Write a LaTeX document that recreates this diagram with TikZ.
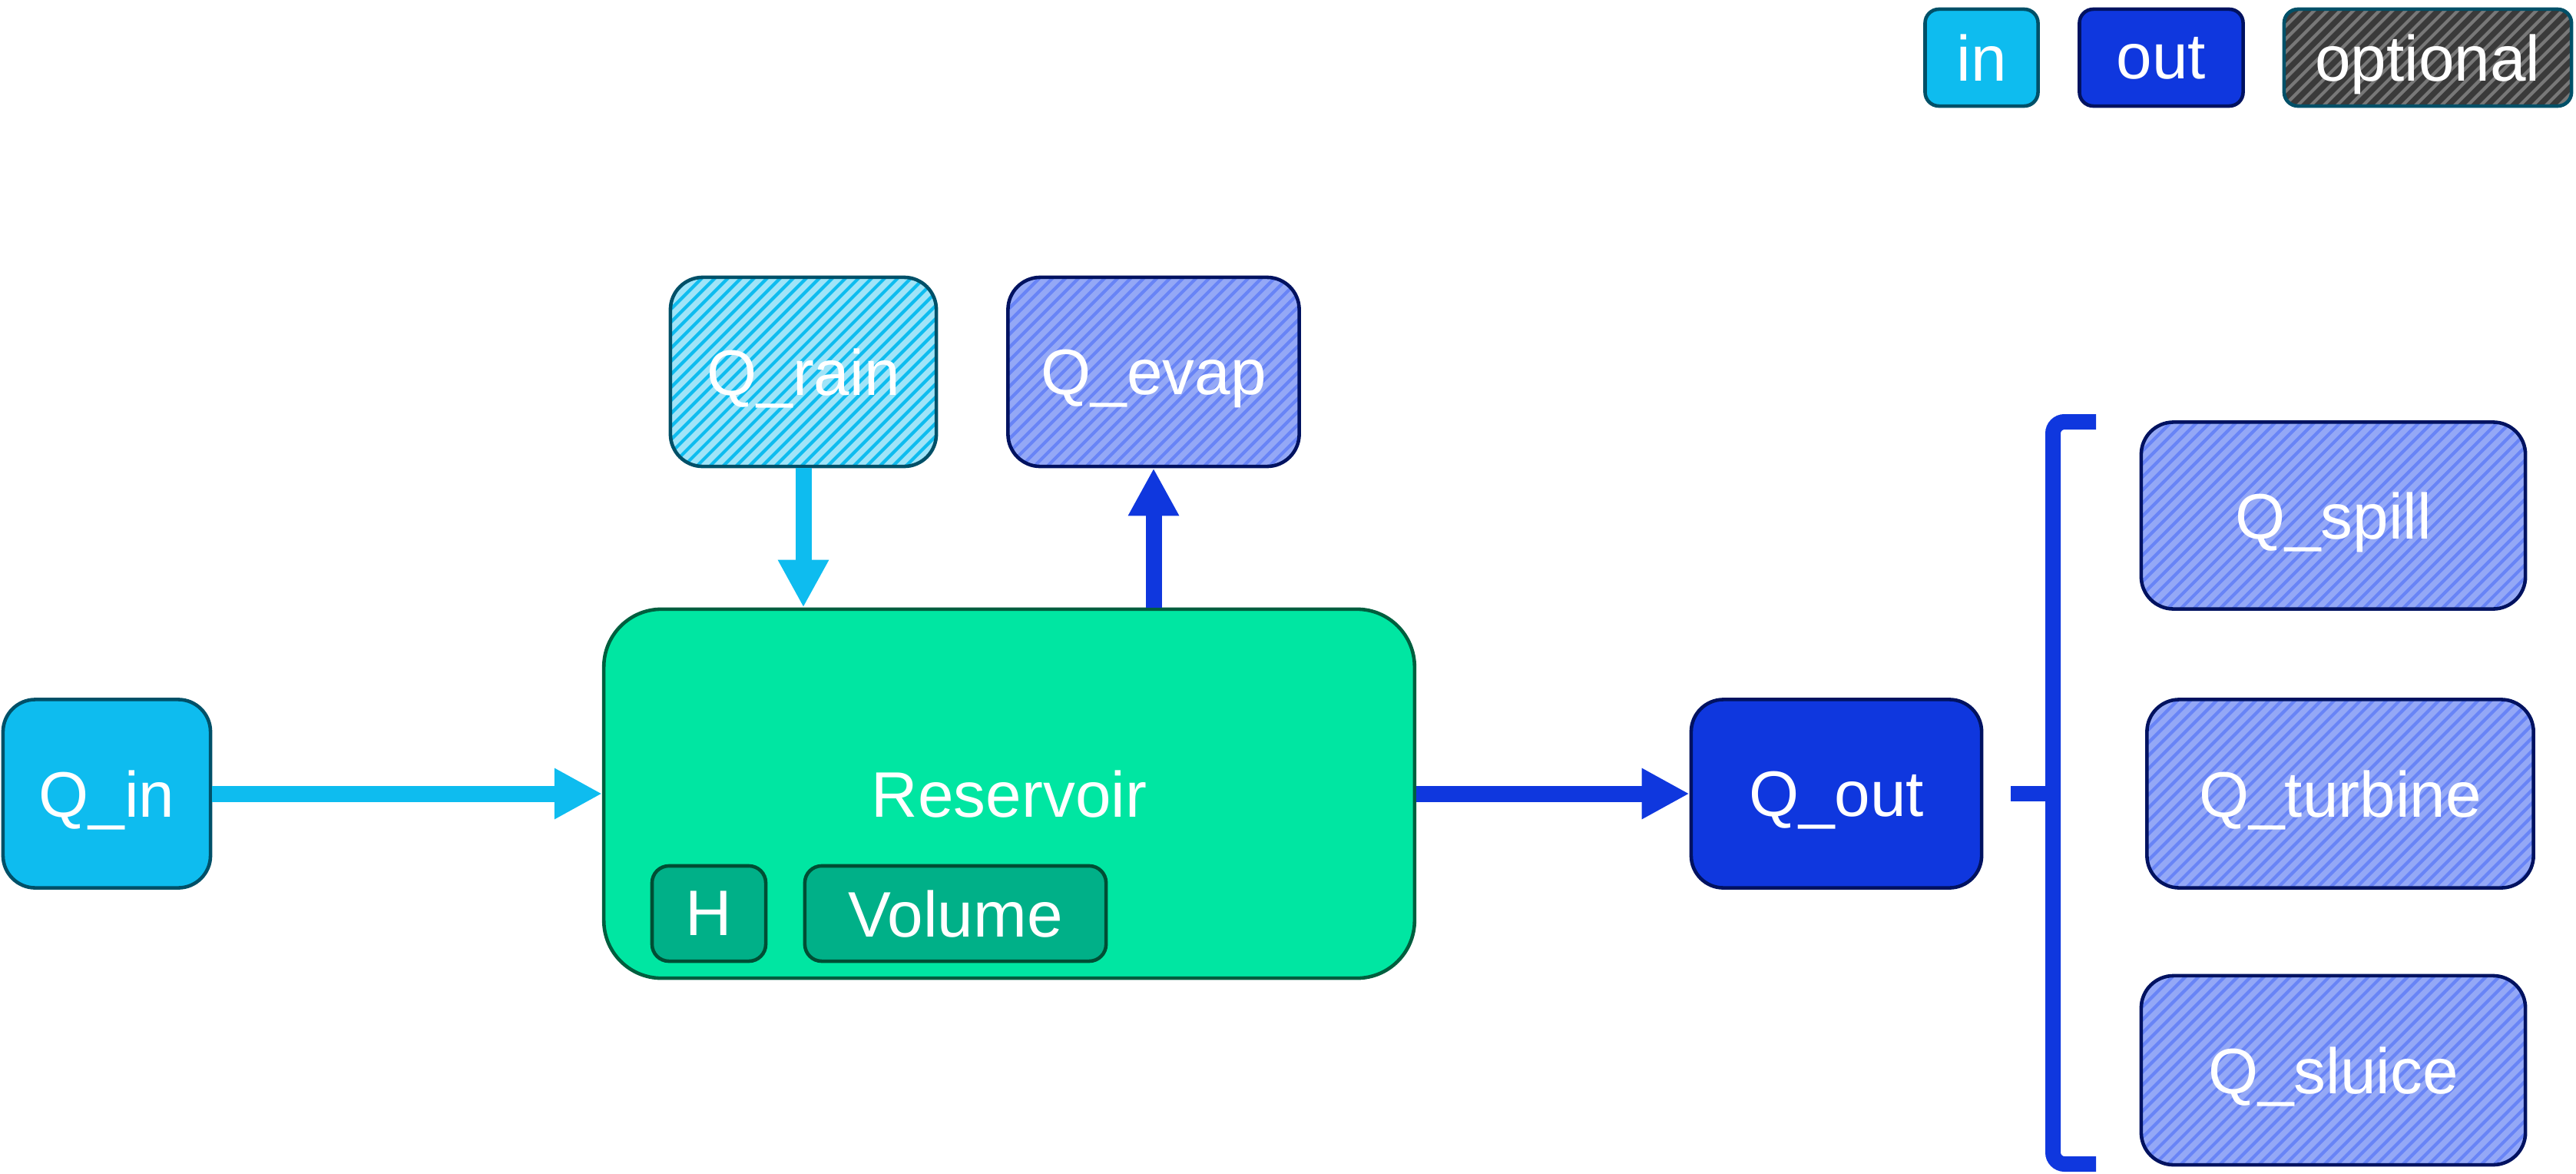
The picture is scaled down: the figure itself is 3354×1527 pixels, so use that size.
\documentclass[tikz,border=0pt]{standalone}
\usepackage{fontspec}
\setmainfont{Liberation Sans}
\usetikzlibrary{arrows.meta,calc}
\definecolor{cin}{RGB}{14,188,239}
\definecolor{cinb}{RGB}{0,80,104}
\definecolor{cout}{RGB}{15,55,222}
\definecolor{coutb}{RGB}{0,18,96}
\definecolor{rainfill}{RGB}{160,228,248}
\definecolor{evapfill}{RGB}{148,168,246}
\definecolor{evapline}{RGB}{104,132,246}
\definecolor{optfill}{RGB}{58,58,58}
\definecolor{optline}{RGB}{120,120,120}
\definecolor{resfill}{RGB}{0,230,162}
\definecolor{resb}{RGB}{0,94,62}
\definecolor{subfill}{RGB}{0,176,136}
\definecolor{subb}{RGB}{0,78,52}
\begin{document}
\begin{tikzpicture}[x=0.01cm,y=-0.01cm,
  base/.style={draw, line width=1.3pt, text=white, inner sep=0pt, text depth=0pt,
    font=\fontsize{23.8}{28}\selectfont, rounded corners=0.42cm},
  hatch/.style 2 args={fill=#1, path picture={
    \foreach \k in {-17,...,33}{
      \draw[draw=#2, line width=0.042cm]
        ([xshift=\k*0.17cm]path picture bounding box.south west) -- ++(4cm,4cm);
    }}},
  inbox/.style={base, fill=cin, draw=cinb},
  outbox/.style={base, fill=cout, draw=coutb},
  rainbox/.style={base, hatch={rainfill}{cin}, draw=cinb},
  evapbox/.style={base, hatch={evapfill}{evapline}, draw=coutb},
  optbox/.style={base, hatch={optfill}{optline}, draw=cinb, rounded corners=0.18cm},
  legbox/.style={rounded corners=0.18cm},
  resbox/.style={base, fill=resfill, draw=resb, rounded corners=0.75cm},
  subbox/.style={base, fill=subfill, draw=subb, rounded corners=0.22cm},
  inarr/.style={draw=cin, line width=0.21cm, -{Triangle[length=0.62cm,width=0.62cm]}},
  outarr/.style={draw=cout, line width=0.21cm, -{Triangle[length=0.62cm,width=0.62cm]}},
  bracestyle/.style={draw=cout, line width=0.2cm, rounded corners=0.15cm}
]
\useasboundingbox (0,0) rectangle (3354,1527);

% legend
\node[inbox, legbox, minimum width=1.47cm, minimum height=1.26cm] (legin) at (2580,75) {in};
\node[outbox, legbox, minimum width=2.13cm, minimum height=1.26cm] (legout) at (2814,75) {out};
\node[optbox, minimum width=3.74cm, minimum height=1.26cm] (legopt) at (3161,75) {optional};

% main nodes
\node[inbox, minimum width=2.70cm, minimum height=2.45cm] (qin) at (139,1033) {Q\_in};
\node[resbox, minimum width=10.55cm, minimum height=4.80cm] (res) at (1314,1033) {Reservoir};
\node[subbox, minimum width=1.48cm, minimum height=1.24cm] (hh) at (923,1189) {H};
\node[subbox, minimum width=3.92cm, minimum height=1.24cm] (vol) at (1244,1189) {Volume};
\node[rainbox, minimum width=3.46cm, minimum height=2.46cm] (qrain) at (1046,484) {Q\_rain};
\node[evapbox, minimum width=3.79cm, minimum height=2.46cm] (qevap) at (1502,484) {Q\_evap};
\node[outbox, minimum width=3.78cm, minimum height=2.45cm] (qout) at (2391,1033) {Q\_out};
\node[evapbox, minimum width=5.00cm, minimum height=2.43cm] (qspill) at (3038,671) {Q\_spill};
\node[evapbox, minimum width=5.03cm, minimum height=2.45cm] (qturb) at (3047,1033) {Q\_turbine};
\node[evapbox, minimum width=5.00cm, minimum height=2.46cm] (qsluice) at (3038,1393) {Q\_sluice};

% connectors
\draw[inarr] (qin.east) -- (res.west);
\draw[inarr] (qrain.south) -- (qrain.south |- res.north);
\draw[outarr] (qevap.south |- res.north) -- (qevap.south);
\draw[outarr] (res.east) -- (qout.west);

% brace
\coordinate (btop) at (2729,549);
\coordinate (bbot) at (2729,1515);
\coordinate (btip) at (2618,1033);
\coordinate (bmid) at (2673,1033);
\draw[bracestyle] (btop) -- (2673,549) -- (2673,1515) -- (bbot);
\draw[draw=cout, line width=0.2cm] (btip) -- (bmid);
\end{tikzpicture}
\end{document}
